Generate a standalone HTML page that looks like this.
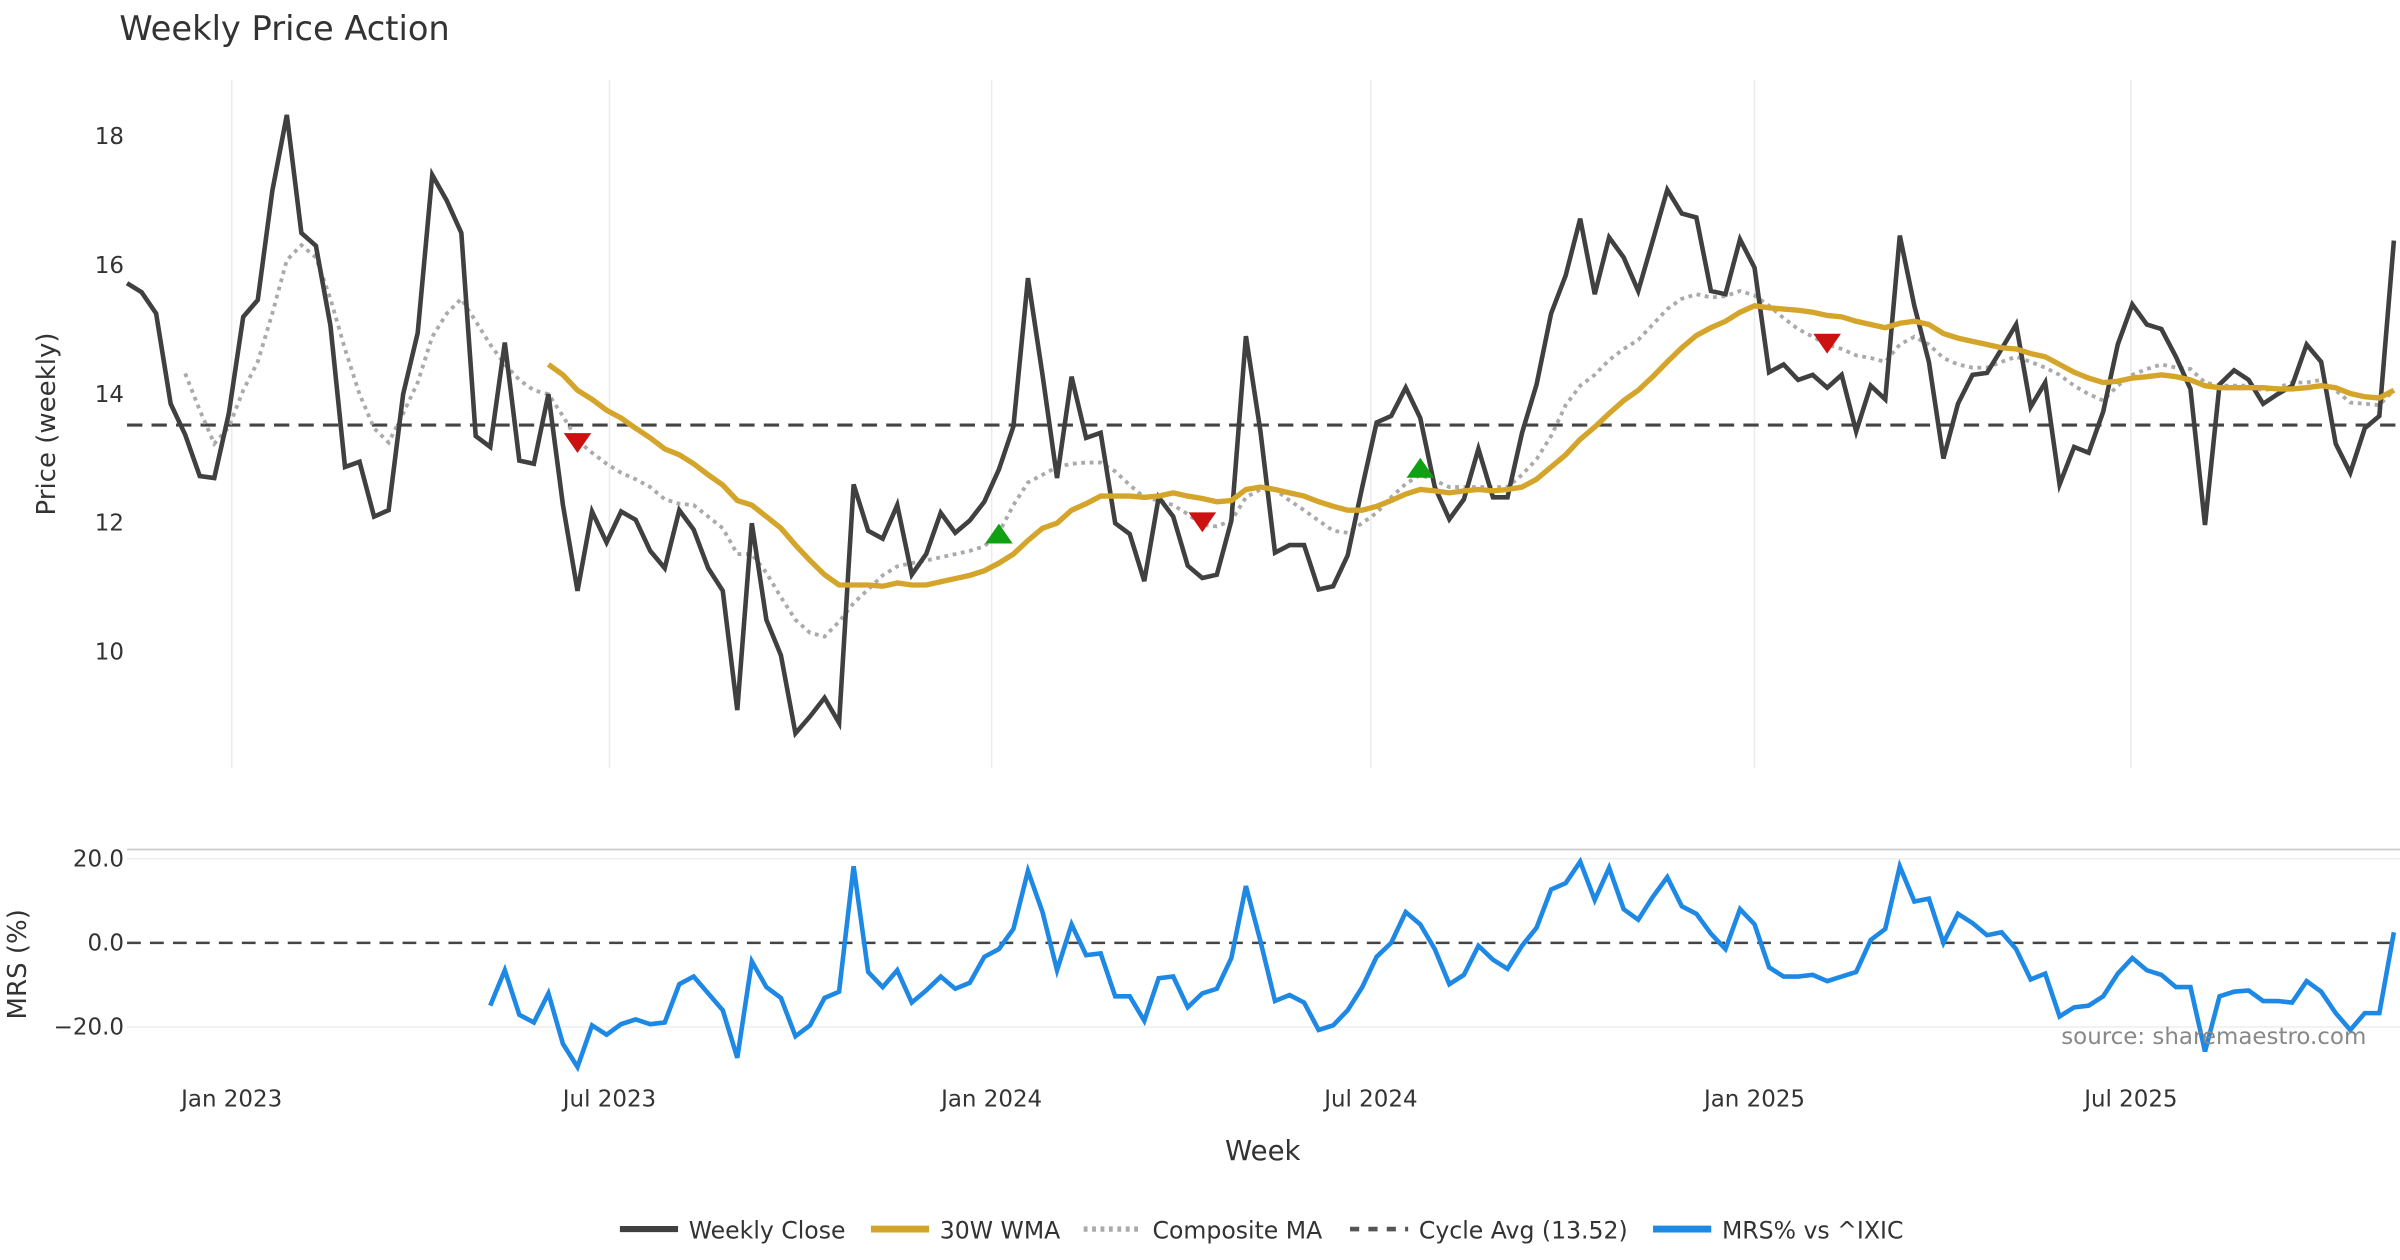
<!DOCTYPE html>
<html><head><meta charset="utf-8"><style>
html,body{margin:0;padding:0;background:#fff;}
svg{display:block;font-family:"DejaVu Sans","Liberation Sans",sans-serif;}
</style></head><body>
<svg id="chart" width="2400" height="1260" viewBox="0 0 1568 823.2" xmlns="http://www.w3.org/2000/svg">
<text x="78" y="26" font-size="22" fill="#333">Weekly Price Action</text>
<g id="grid"></g>
<g id="main"></g>
<g id="mrs"></g>
<text transform="translate(36,277) rotate(-90)" text-anchor="middle" font-size="17" fill="#333">Price (weekly)</text>
<text transform="translate(17,630) rotate(-90)" text-anchor="middle" font-size="17" fill="#333">MRS (%)</text>
<text x="825" y="758" text-anchor="middle" font-size="18" fill="#333">Week</text>
<text x="1546" y="682" text-anchor="end" font-size="15" fill="#888">source: sharemaestro.com</text>
<g id="legend"></g>
</svg>
<script>
const close=[15.72,15.58,15.25,13.85,13.37,12.73,12.7,13.7,15.2,15.46,17.15,18.33,16.5,16.3,15.06,12.87,12.95,12.1,12.2,14.0,14.95,17.4,17.0,16.5,13.35,13.18,14.8,12.97,12.92,14.0,12.28,10.95,12.18,11.7,12.18,12.05,11.57,11.3,12.2,11.9,11.3,10.95,9.1,12.0,10.5,9.95,8.74,9.0,9.29,8.9,12.6,11.88,11.76,12.28,11.2,11.52,12.16,11.85,12.04,12.33,12.83,13.5,15.8,14.3,12.7,14.27,13.32,13.4,12.0,11.83,11.1,12.4,12.1,11.34,11.15,11.2,12.04,14.9,13.42,11.54,11.66,11.66,10.97,11.02,11.5,12.56,13.56,13.66,14.1,13.63,12.56,12.06,12.37,13.15,12.4,12.4,13.4,14.15,15.25,15.84,16.72,15.55,16.43,16.12,15.6,16.38,17.17,16.8,16.74,15.6,15.55,16.4,15.96,14.34,14.46,14.22,14.3,14.1,14.3,13.42,14.13,13.92,16.46,15.37,14.5,13.0,13.85,14.3,14.33,14.7,15.08,13.8,14.18,12.6,13.18,13.09,13.73,14.77,15.39,15.08,15.01,14.58,14.08,11.97,14.15,14.37,14.22,13.85,14.0,14.13,14.77,14.5,13.23,12.78,13.47,13.66,16.38];
const wmaStart=29;
const wma=[14.46,14.3,14.06,13.92,13.75,13.63,13.47,13.32,13.15,13.06,12.92,12.75,12.59,12.35,12.28,12.1,11.92,11.66,11.42,11.2,11.04,11.04,11.04,11.02,11.07,11.04,11.04,11.09,11.14,11.19,11.26,11.38,11.52,11.73,11.92,12.0,12.2,12.3,12.42,12.42,12.42,12.4,12.42,12.47,12.42,12.38,12.33,12.35,12.52,12.56,12.52,12.47,12.42,12.33,12.26,12.2,12.2,12.26,12.35,12.45,12.52,12.5,12.47,12.5,12.52,12.5,12.52,12.56,12.68,12.87,13.06,13.3,13.49,13.7,13.9,14.06,14.27,14.5,14.72,14.91,15.03,15.13,15.27,15.37,15.34,15.32,15.3,15.27,15.22,15.2,15.13,15.08,15.03,15.1,15.13,15.08,14.94,14.87,14.82,14.77,14.72,14.7,14.63,14.58,14.46,14.34,14.25,14.18,14.2,14.25,14.27,14.3,14.27,14.22,14.13,14.1,14.1,14.1,14.1,14.08,14.08,14.1,14.13,14.1,14.01,13.96,13.94,14.06];
const compStart=4;
const comp=[14.32,13.75,13.23,13.49,14.06,14.5,15.25,16.08,16.31,16.12,15.48,14.7,14.0,13.47,13.25,13.7,14.18,14.89,15.25,15.48,15.13,14.77,14.46,14.22,14.06,14.0,13.66,13.28,13.09,12.92,12.78,12.68,12.56,12.37,12.3,12.28,12.1,11.92,11.52,11.52,11.23,10.85,10.5,10.3,10.24,10.47,10.76,10.97,11.19,11.33,11.38,11.42,11.47,11.52,11.57,11.64,11.85,12.28,12.63,12.75,12.87,12.92,12.94,12.94,12.8,12.59,12.4,12.35,12.28,12.14,11.97,11.95,12.04,12.4,12.52,12.52,12.35,12.2,12.04,11.88,11.85,12.0,12.16,12.4,12.61,12.75,12.66,12.56,12.56,12.56,12.56,12.56,12.75,12.99,13.35,13.83,14.13,14.3,14.53,14.7,14.84,15.08,15.32,15.48,15.55,15.5,15.52,15.6,15.53,15.37,15.18,15.01,14.89,14.77,14.7,14.6,14.56,14.5,14.77,14.89,14.77,14.56,14.46,14.41,14.41,14.5,14.58,14.5,14.41,14.3,14.13,14.0,13.9,14.13,14.3,14.39,14.46,14.41,14.39,14.18,14.13,14.13,14.13,14.06,14.1,14.18,14.18,14.22,14.06,13.87,13.85,13.83,14.06];
const mrsStart=25;
const mrs=[-14.9,-6.5,-17.1,-18.9,-12,-24,-29.5,-19.6,-21.8,-19.3,-18.2,-19.3,-18.9,-9.8,-8,-12,-16,-27.3,-4.4,-10.5,-13.1,-22.2,-19.6,-13.1,-11.6,18.2,-6.9,-10.5,-6.5,-14.2,-11.3,-8,-10.9,-9.5,-3.3,-1.5,3.3,17.1,7.3,-6.5,4.4,-2.9,-2.5,-12.7,-12.7,-18.5,-8.4,-8,-15.3,-12,-10.9,-3.6,13.5,0.4,-13.8,-12.4,-14.2,-20.7,-19.6,-16,-10.5,-3.3,0,7.3,4.4,-1.5,-9.8,-7.6,-0.7,-4,-6.2,-0.7,3.6,12.7,14.2,19.3,10.2,17.8,8,5.5,10.9,15.6,8.7,6.9,2.2,-1.5,8,4.4,-5.8,-8,-8,-7.6,-9.1,-8,-6.9,0.7,3.3,18.2,9.8,10.5,0,6.9,4.7,1.8,2.5,-1.5,-8.7,-7.3,-17.5,-15.3,-14.9,-12.7,-7.3,-3.6,-6.5,-7.6,-10.5,-10.5,-25.8,-12.7,-11.6,-11.3,-13.8,-13.8,-14.2,-9.1,-11.6,-16.7,-20.7,-16.7,-16.7,2.5];
const cycleAvg=13.52;
const sellIdx=[31,74,117];
const sellVal=[13.23,12.0,14.77];
const buyIdx=[60,89];
const buyVal=[11.85,12.87];
const priceTicks=[10,12,14,16,18];
const mrsTicks=[20,0,-20];
const mrsTickLabels=["20.0","0.0","\u221220.0"];
const dateTickIdx=[7.2,33.2,59.5,85.6,112.0,137.9];
const dateTickLabels=["Jan 2023","Jul 2023","Jan 2024","Jul 2024","Jan 2025","Jul 2025"];

const NS="http://www.w3.org/2000/svg";
const X0=83,X1=1564;
const step=(X1-X0)/(close.length-1);
function xs(i){return X0+i*step;}
function yp(v){return 89+(18-v)*42.125;}
function ym(v){return 616-v*2.75;}
function mk(tag,attrs,parent){const e=document.createElementNS(NS,tag);for(const k in attrs)e.setAttribute(k,attrs[k]);parent.appendChild(e);return e;}
const grid=document.getElementById('grid'),main=document.getElementById('main'),mg=document.getElementById('mrs');

dateTickIdx.forEach((d,k)=>{
  const g=mk('line',{x1:xs(d),x2:xs(d),y1:52,y2:502,stroke:'#ebebeb','stroke-width':1},grid);
  
  
  const t=mk('text',{x:xs(d),y:723,'text-anchor':'middle','font-size':15,fill:'#333'},grid);
  t.textContent=dateTickLabels[k];
  
  
});
priceTicks.forEach(v=>{
  const t=mk('text',{x:81,y:yp(v)+5,'text-anchor':'end','font-size':15,fill:'#333'},grid);
  t.textContent=v;
  
  
});
const cl=mk('line',{x1:83,x2:1568,y1:yp(cycleAvg),y2:yp(cycleAvg),stroke:'#444','stroke-width':2,'stroke-dasharray':'10,6'},main);



function path(arr,off,yf){return arr.map((v,j)=>(j?'L':'M')+xs(off+j).toFixed(1)+','+yf(v).toFixed(1)).join(' ');}
const pc=mk('path',{d:path(comp,compStart,yp),fill:'none',stroke:'#aaaaaa','stroke-width':2.5,'stroke-dasharray':'2.5,3'},main);


const pcl=mk('path',{d:path(close,0,yp),fill:'none',stroke:'#404040','stroke-width':3,'stroke-linejoin':'miter'},main);


const pw=mk('path',{d:path(wma,wmaStart,yp),fill:'none',stroke:'#D4A52A','stroke-width':3.5},main);


sellIdx.forEach((i,k)=>{const x=xs(i),y=yp(sellVal[k]);
  const m=mk('polygon',{points:`${x-9},${y-7} ${x+9},${y-7} ${x},${y+6}`,fill:'#CC1111'},main);
  
  });
buyIdx.forEach((i,k)=>{const x=xs(i),y=yp(buyVal[k]);
  const m=mk('polygon',{points:`${x-9},${y+7} ${x+9},${y+7} ${x},${y-6}`,fill:'#11A011'},main);
  
  });

const mrsBorder=mk('line',{x1:83,x2:1568,y1:555,y2:555,stroke:'#cccccc','stroke-width':1.2},mg);


mrsTicks.forEach((v,k)=>{
  if(v!==0){const g=mk('line',{x1:83,x2:1568,y1:ym(v),y2:ym(v),stroke:'#eeeeee','stroke-width':1},mg);
  
  }
  const t=mk('text',{x:81,y:ym(v)+5,'text-anchor':'end','font-size':15,fill:'#333'},mg);
  t.textContent=mrsTickLabels[k];
  
  
});
const zl=mk('line',{x1:83,x2:1568,y1:ym(0),y2:ym(0),stroke:'#444','stroke-width':1.6,'stroke-dasharray':'9,6'},mg);


const pm=mk('path',{d:path(mrs,mrsStart,ym),fill:'none',stroke:'#1E88E5','stroke-width':3},mg);



const leg=document.getElementById('legend');
const items=[["Weekly Close","#404040",3,null,405],["30W WMA","#D4A52A",3.5,null,569],["Composite MA","#aaaaaa",2.5,"2.5,3",708],["Cycle Avg (13.52)","#555",2,"6,6",882],["MRS% vs ^IXIC","#1E88E5",3.5,null,1080]];
items.forEach(it=>{
  const l=mk('line',{x1:it[4],x2:it[4]+38,y1:803,y2:803,stroke:it[1],'stroke-width':it[2]+1},leg);
  if(it[3])l.setAttribute('stroke-dasharray',it[3]);
  
  
  const t=mk('text',{x:it[4]+45,y:809,'font-size':15.4,fill:'#333'},leg);
  t.textContent=it[0];
  
  
});
</script>
</body></html>
